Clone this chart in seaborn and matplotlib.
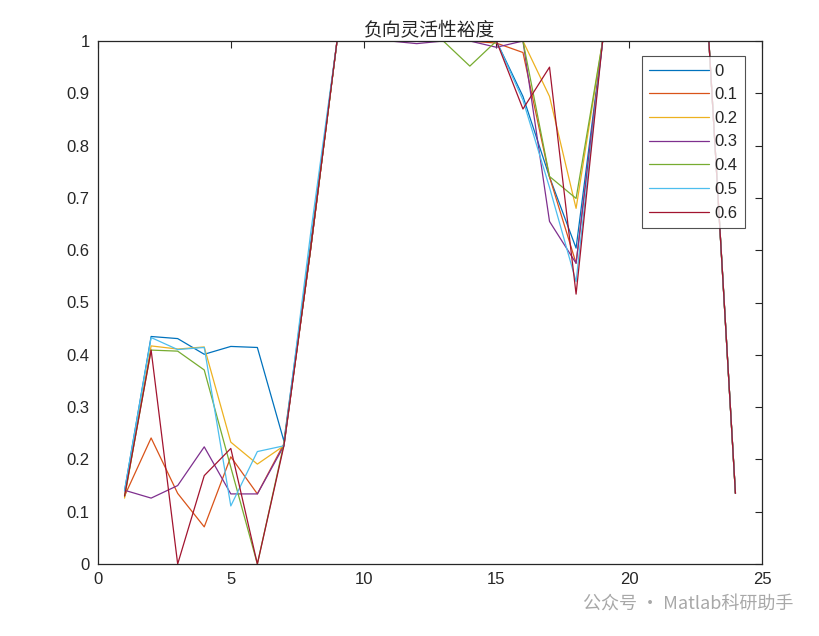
import numpy as np
import pandas as pd
import matplotlib
matplotlib.use("Agg")
import matplotlib.pyplot as plt
import seaborn as sns

x = list(range(1, 25))
labels = ["0", "0.1", "0.2", "0.3", "0.4", "0.5", "0.6"]
s0 = [0.140, 0.435, 0.431, 0.401, 0.416, 0.414, 0.235, 0.61, 1, 1, 1, 1, 1, 1, 1, 0.894, 0.740, 0.604, 1, 1, 1, 1, 1, 0.135]
s1 = [0.130, 0.241, 0.135, 0.071, 0.205, 0.134, 0.230, 0.60, 1, 1, 1, 1, 1, 1, 0.996, 0.978, 0.740, 0.575, 1, 1, 1, 1, 1, 0.135]
s2 = [0.126, 0.417, 0.411, 0.415, 0.233, 0.191, 0.226, 0.60, 1, 1, 1, 1, 1, 1, 1, 1.000, 0.894, 0.680, 1, 1, 1, 1, 1, 0.135]
s3 = [0.141, 0.126, 0.150, 0.224, 0.134, 0.134, 0.226, 0.60, 1, 1, 1, 0.995, 1, 1, 0.988, 1.000, 0.655, 0.575, 1, 1, 1, 1, 1, 0.135]
s4 = [0.130, 0.409, 0.407, 0.371, 0.185, 0.000, 0.230, 0.60, 1, 1, 1, 1, 1, 0.952, 1, 1.000, 0.741, 0.699, 1, 1, 1, 1, 1, 0.135]
s5 = [0.140, 0.433, 0.410, 0.414, 0.111, 0.215, 0.226, 0.63, 1, 1, 1, 1, 1, 1, 1, 0.887, 0.720, 0.540, 1, 1, 1, 1, 1, 0.135]
s6 = [0.130, 0.409, 0.000, 0.169, 0.221, 0.000, 0.226, 0.60, 1, 1, 1, 1, 1, 1, 1, 0.870, 0.950, 0.516, 1, 1, 1, 1, 1, 0.135]
series = [s0, s1, s2, s3, s4, s5, s6]
colors = ["#0072BD", "#D95319", "#EDB120", "#7E2F8E", "#77AC30", "#4DBEEE", "#A2142F"]

df = pd.concat([pd.DataFrame({"x": x, "y": s, "k": lab}) for s, lab in zip(series, labels)],
               ignore_index=True)

sns.set_style("white")
plt.rcParams['font.family'] = ['Liberation Sans', 'Noto Sans CJK SC', 'DejaVu Sans']

fig = plt.figure(figsize=(8.19, 6.36), dpi=100)
ax = fig.add_axes([98/819, 1-564/636, (762-98)/819, (564-41)/636])
sns.lineplot(data=df, x="x", y="y", hue="k", hue_order=labels,
             palette=colors, linewidth=0.9, ax=ax, legend=True)

ax.set_xlim(0, 25)
ax.set_ylim(0, 1)
ax.set_xticks([0, 5, 10, 15, 20, 25])
ax.set_yticks(np.round(np.arange(0, 1.01, 0.1), 1))
ax.set_yticklabels(["0", "0.1", "0.2", "0.3", "0.4", "0.5", "0.6", "0.7", "0.8", "0.9", "1"])
ax.set_xlabel("")
ax.set_ylabel("")
ax.tick_params(direction="in", length=5, width=0.8, top=True, right=True,
               labelsize=12, colors="#262626", pad=6)
for sp in ax.spines.values():
    sp.set_visible(True)
    sp.set_color("#262626")
    sp.set_linewidth(0.9)
ax.set_title("负向灵活性裕度", fontsize=13.5, family=['Noto Sans CJK SC', 'DejaVu Sans'],
             color="#262626", pad=4)

leg = ax.legend(loc="upper right", bbox_to_anchor=(745/819, 1-56/636),
                bbox_transform=fig.transFigure, fontsize=12, frameon=True,
                fancybox=False, edgecolor="#262626", handlelength=3.6,
                handletextpad=0.3, labelspacing=0.52, borderpad=0.45,
                borderaxespad=0)
leg.get_frame().set_linewidth(0.8)
for line in leg.get_lines():
    line.set_linewidth(0.9)

fig.text(793/819, 1-605/636, "公众号 · Matlab科研助手", ha="right", va="center",
         fontsize=13, color="#a8a8a8", family=['Noto Sans CJK SC', 'DejaVu Sans'])

fig.savefig("out.png", dpi=100, facecolor="white")
